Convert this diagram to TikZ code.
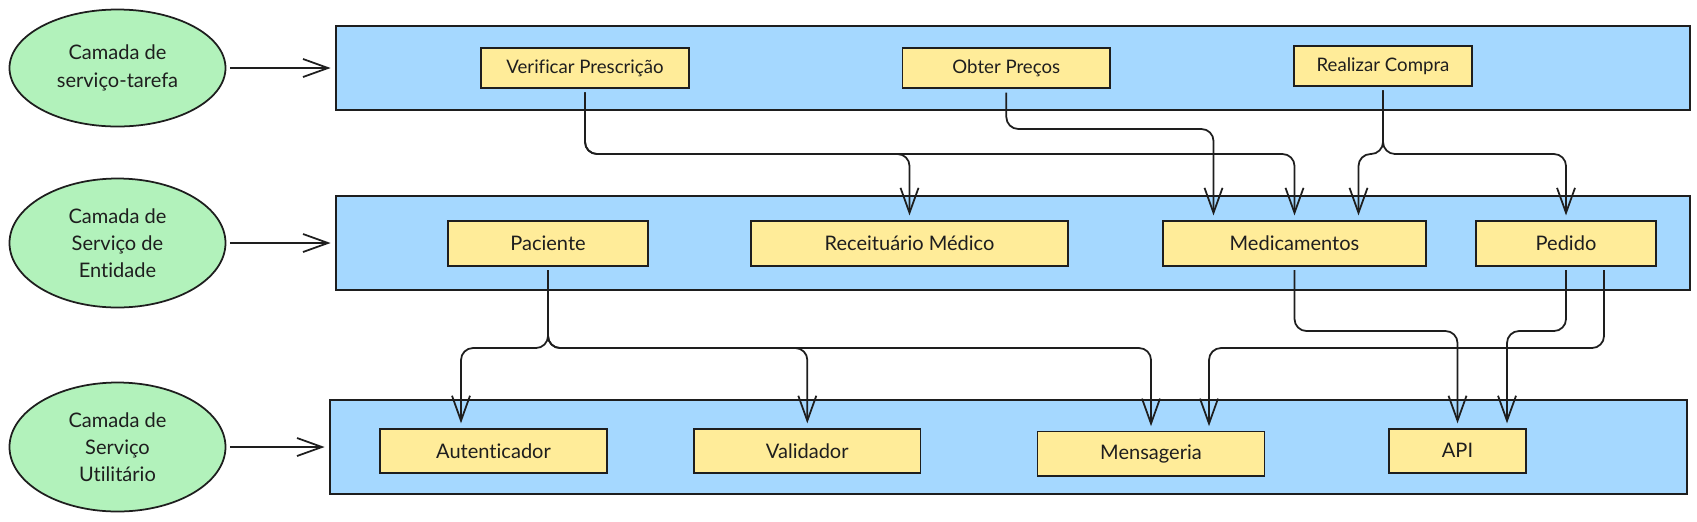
\documentclass[tikz,border=0pt]{standalone}
\usepackage{fontspec}
\setmainfont{Lato}[Ligatures=NoCommon]
\usetikzlibrary{arrows.meta,shapes.geometric}
\definecolor{lgreen}{HTML}{B2F2BB}
\definecolor{lblue}{HTML}{A5D8FF}
\definecolor{lyellow}{HTML}{FFEC99}
\definecolor{ink}{HTML}{1E1E1E}
\begin{document}
\begin{tikzpicture}[x=0.2mm,y=-0.2mm,>={Straight Barb[length=5mm,width=3.6mm]},
  camada/.style={ellipse,draw=ink,line width=1pt,fill=lgreen,text=ink,inner sep=0pt,
    minimum width=43.2mm,align=center,font=\fontsize{11.4}{15.5}\selectfont},
  layer/.style={rectangle,draw=ink,line width=1pt,fill=lblue},
  svc/.style={rectangle,draw=ink,line width=1pt,fill=lyellow,text=ink,inner sep=0pt,
    minimum height=9mm,font=\fontsize{11.4}{14}\selectfont},
  topsvc/.style={svc,minimum height=8mm,font=\fontsize{10.6}{13}\selectfont},
  conn/.style={->,draw=ink,line width=1pt,line join=round,rounded corners=2.4mm,
    shorten <=0.7mm,shorten >=0.9mm}]
\useasboundingbox (0,0) rectangle (1697,521);

% camadas
\node[camada,minimum height=23.4mm] (ct) at (117.5,68) {Camada de\\serviço-tarefa};
\node[camada,minimum height=25.8mm] (ce) at (117.5,243) {Camada de\\Serviço de\\Entidade};
\node[camada,minimum height=25.8mm] (cu) at (117.5,447) {Camada de\\Serviço\\Utilitário};

% faixas
\node[layer,minimum width=270.8mm,minimum height=16.8mm] (lt) at (1013,68) {};
\node[layer,minimum width=270.8mm,minimum height=18.8mm] (le) at (1013,243) {};
\node[layer,minimum width=271.4mm,minimum height=18.8mm] (lu) at (1008.5,447) {};

\draw[conn] (ct)--(lt);
\draw[conn] (ce)--(le);
\draw[conn] (cu)--(lu);

% servicos de tarefa
\node[topsvc,minimum width=41.5mm] (vp) at (585,68) {Verificar Prescrição};
\node[topsvc,minimum width=41.5mm] (op) at (1006.3,68.3) {Obter Preços};
\node[topsvc,minimum width=35.6mm] (rc) at (1383,66) {Realizar Compra};

% entidades
\node[svc,minimum width=40mm] (pac) at (548,243.3) {Paciente};
\node[svc,minimum width=63.4mm] (rm) at (909.5,243.3) {Receituário Médico};
\node[svc,minimum width=52.6mm] (med) at (1294.5,243.3) {Medicamentos};
\node[svc,minimum width=36mm] (ped) at (1566,243.3) {Pedido};

% utilitarios
\node[svc,minimum width=45.4mm,minimum height=8.8mm] (aut) at (493.5,450.7) {Autenticador};
\node[svc,minimum width=45.3mm,minimum height=8.8mm] (val) at (807.3,450.7) {Validador};
\node[svc,minimum width=45.4mm,minimum height=8.9mm] (msg) at (1151,453.8) {Mensageria};
\node[svc,minimum width=27.4mm,minimum height=8.8mm] (api) at (1457.5,450.7) {API};

% niveis das ligacoes
\coordinate (b1) at (0,129);
\coordinate (b2) at (0,154);
\coordinate (b3) at (0,331);
\coordinate (b4) at (0,348);
\coordinate (med-a) at ([xshift=-16.2mm]med.north);
\coordinate (med-c) at ([xshift=12.8mm]med.north);
\coordinate (aut-a) at ([xshift=-6.5mm]aut.north);
\coordinate (api-b) at ([xshift=9.9mm]api.north);
\coordinate (msg-b) at ([xshift=11.6mm]msg.north);
\coordinate (ped-b) at ([xshift=7.6mm]ped.south);

\draw[conn] (vp.south)--(vp.south|-b2)-|(rm.north);
\draw[conn] (vp.south)--(vp.south|-b2)-|(med.north);
\draw[conn] (op.south)--(op.south|-b1)-|(med-a);
\draw[conn] (rc.south)--(rc.south|-b2)-|(med-c);
\draw[conn] (rc.south)--(rc.south|-b2)-|(ped.north);

\draw[conn] (pac.south)--(pac.south|-b4)-|(aut-a);
\draw[conn] (pac.south)--(pac.south|-b4)-|(val.north);
\draw[conn] (pac.south)--(pac.south|-b4)-|(msg.north);
\draw[conn] (med.south)--(med.south|-b3)-|(api.north);
\draw[conn] (ped.south)--(ped.south|-b3)-|(api-b);
\draw[conn] (ped-b)--(ped-b|-b4)-|(msg-b);
\end{tikzpicture}
\end{document}
